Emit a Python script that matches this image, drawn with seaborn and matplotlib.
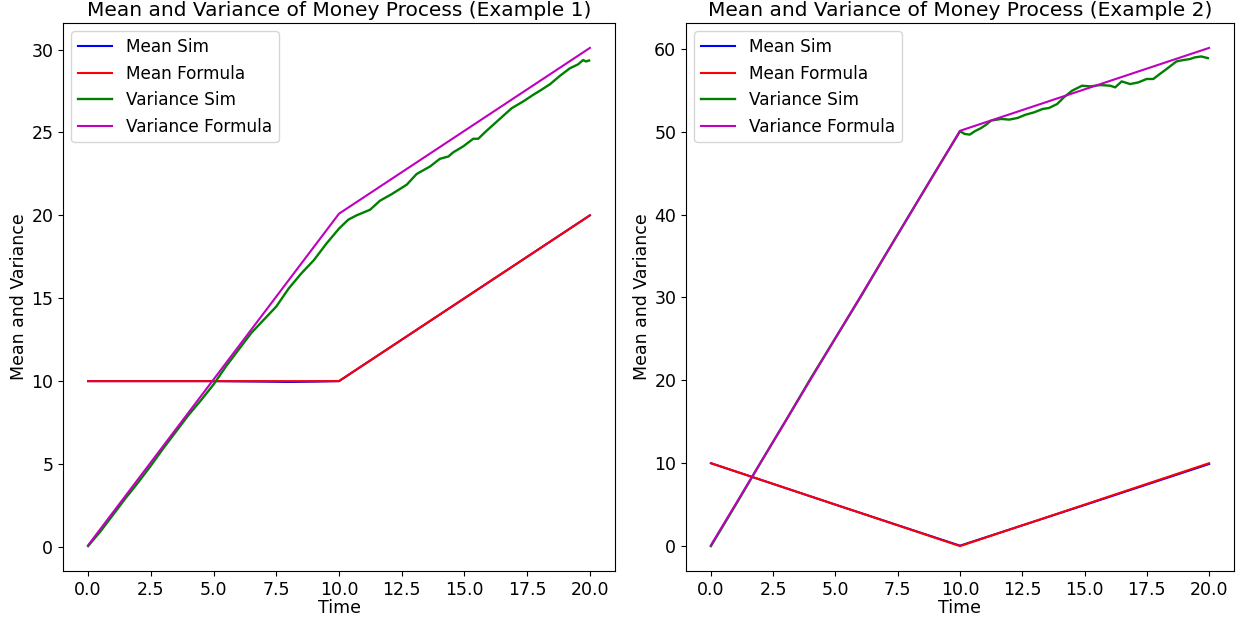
"""
Mean and variance of the money process: simulated vs. formula,
two examples side by side.
"""

import numpy as np
import pandas as pd
import matplotlib
matplotlib.use("Agg")
import matplotlib.pyplot as plt
import seaborn as sns

# ---- example 1 ---------------------------------------------------------
ex1_t_formula = [0.0, 10.0, 20.0]
ex1_mean_formula = [10.0, 10.0, 20.0]
ex1_var_formula = [0.1, 20.1, 30.1]

ex1_t_mean_sim = [0.0, 5.0, 7.0, 8.0, 9.0, 10.0, 15.0, 20.0]
ex1_mean_sim = [10.0, 10.0, 9.97, 9.95, 9.97, 10.0, 15.0, 20.0]

ex1_t_var_sim = [0.0, 0.5, 1.0, 1.5, 2.0, 2.5, 3.0, 3.5, 4.0, 4.5,
                 5.0, 5.5, 6.0, 6.5, 7.0, 7.5, 8.0, 8.5, 9.0, 9.5,
                 10.0, 10.37, 10.7, 11.24, 11.63, 12.1, 12.7, 13.09, 13.63, 14.02,
                 14.36, 14.55, 14.95, 15.35, 15.55, 15.88, 16.41, 16.88, 17.34, 17.74,
                 18.0, 18.41, 18.8, 19.2, 19.53, 19.73, 19.84, 19.97]
ex1_var_sim = [0.05, 0.95, 1.95, 2.95, 3.9, 4.9, 5.95, 6.95, 7.95, 8.85,
               9.8, 10.9, 11.9, 12.9, 13.7, 14.5, 15.6, 16.5, 17.3, 18.3,
               19.2, 19.74, 20.0, 20.34, 20.88, 21.28, 21.85, 22.49, 22.95, 23.41,
               23.55, 23.8, 24.16, 24.62, 24.62, 25.1, 25.82, 26.46, 26.87, 27.27,
               27.51, 27.91, 28.41, 28.87, 29.11, 29.37, 29.28, 29.34]

# ---- example 2 ---------------------------------------------------------
ex2_t_formula = [0.0, 10.0, 20.0]
ex2_mean_formula = [10.0, 0.0, 10.0]
ex2_var_formula = [0.1, 50.1, 60.1]

ex2_t_mean_sim = [0.0, 5.0, 10.0, 15.0, 20.0]
ex2_mean_sim = [10.0, 5.0, 0.05, 4.95, 9.9]

ex2_t_var_sim = [0.0, 1.0, 2.0, 3.0, 4.0, 5.0, 6.0, 7.0, 8.0, 9.0,
                 10.0, 10.19, 10.39, 10.59, 10.85, 11.05, 11.25, 11.65, 11.98, 12.31,
                 12.64, 12.98, 13.31, 13.57, 13.9, 14.17, 14.5, 14.9, 15.23, 15.63,
                 16.03, 16.23, 16.49, 16.83, 17.16, 17.49, 17.76, 18.02, 18.29, 18.69,
                 18.95, 19.22, 19.42, 19.68, 19.95]
ex2_var_sim = [0.0, 5.0, 10.1, 15.1, 20.2, 25.1, 30.0, 35.1, 40.1, 45.1,
               50.04, 49.72, 49.64, 50.04, 50.44, 50.84, 51.33, 51.53, 51.45, 51.65,
               52.05, 52.33, 52.73, 52.85, 53.33, 54.14, 54.94, 55.54, 55.46, 55.62,
               55.54, 55.34, 56.06, 55.74, 55.94, 56.35, 56.35, 56.95, 57.55, 58.47,
               58.63, 58.75, 58.95, 59.07, 58.87]

EXAMPLES = [
    ("Mean and Variance of Money Process (Example 1)",
     ex1_t_mean_sim, ex1_mean_sim, ex1_t_formula, ex1_mean_formula,
     ex1_t_var_sim, ex1_var_sim, ex1_var_formula),
    ("Mean and Variance of Money Process (Example 2)",
     ex2_t_mean_sim, ex2_mean_sim, ex2_t_formula, ex2_mean_formula,
     ex2_t_var_sim, ex2_var_sim, ex2_var_formula),
]

FS = 12.5

fig = plt.figure(figsize=(12.44, 6.18), dpi=100)
ax1 = fig.add_axes([63 / 1244, 1 - 571 / 618, 552 / 1244, 548 / 618])
ax2 = fig.add_axes([686 / 1244, 1 - 571 / 618, 548 / 1244, 548 / 618])

for ax, (title, tms, ms, tf, mf, tvs, vs, vf) in zip((ax1, ax2), EXAMPLES):
    sns.lineplot(x=tms, y=ms, ax=ax, color="b", label="Mean Sim",
                 estimator=None, sort=False, lw=1.5)
    sns.lineplot(x=tf, y=mf, ax=ax, color="r", label="Mean Formula",
                 estimator=None, sort=False, lw=1.5)
    sns.lineplot(x=tvs, y=vs, ax=ax, color="g", label="Variance Sim",
                 estimator=None, sort=False, lw=1.7)
    sns.lineplot(x=tf, y=vf, ax=ax, color="m", label="Variance Formula",
                 estimator=None, sort=False, lw=1.5)
    ax.set_title(title, fontsize=14.5, pad=5)
    ax.set_xlabel("Time", fontsize=FS, labelpad=0.5)
    ax.set_ylabel("Mean and Variance", fontsize=FS, labelpad=2)
    ax.tick_params(labelsize=FS)
    ax.legend(loc="upper left", fontsize=12.2)

fig.savefig("out.png", dpi=100)
